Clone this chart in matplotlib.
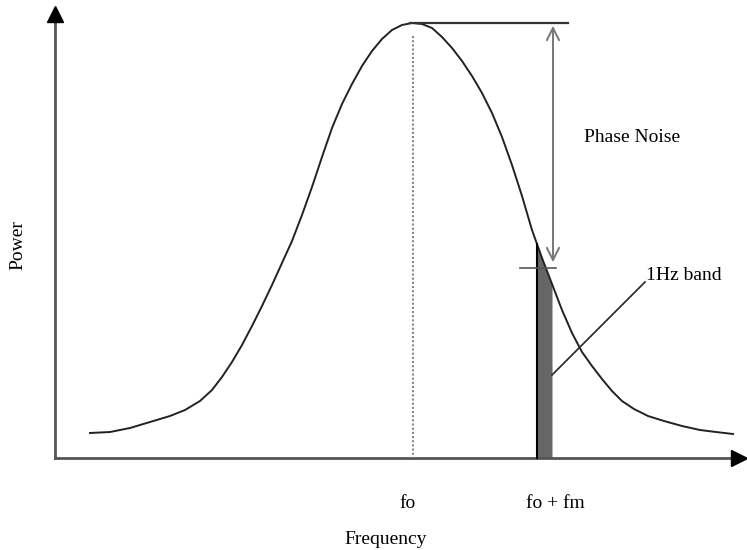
import numpy as np
import matplotlib.pyplot as plt

plt.rcParams['font.family'] = ['Liberation Serif', 'DejaVu Serif']

# curve (pixel coordinates, y down)
curve_x = [90, 110, 130, 150, 170, 185, 200, 212, 222, 232, 242, 252, 262, 272, 282, 292,
           302, 312, 322, 332, 342, 352, 362, 372, 382, 392, 402, 412, 422, 432, 442, 452,
           462, 472, 482, 492, 502, 512, 522, 532, 542, 552, 562, 572, 582, 592, 602, 612,
           622, 634, 648, 664, 682, 700, 716, 733]
curve_y = [433, 432, 428, 422, 416, 410, 401, 390, 377, 362, 345, 326, 306, 285, 263, 241,
           215, 187, 157, 128, 104, 84, 66, 51, 39, 30, 25, 23, 24, 28, 37, 48,
           61, 76, 93, 113, 137, 165, 196, 230, 258, 284, 310, 333, 352, 366, 379, 391,
           401, 409, 416, 421, 426, 430, 432, 434]

f0_x = 413
band_x = [537, 552]
peak_y = 23
noise_y = 265

fig = plt.figure(figsize=(7.47, 5.5), dpi=100)
ax = fig.add_axes([0, 0, 1, 1])
ax.set_xlim(0, 747)
ax.set_ylim(550, 0)
ax.axis('off')

# axes with arrows
ax.plot([55, 55], [458, 14], color='#555555', lw=2)
ax.plot([55, 738], [458, 458], color='#555555', lw=2)
ax.plot(55, 14, marker='^', color='black', ms=11)
ax.plot(739, 458, marker='>', color='black', ms=11)

# curve
ax.plot(curve_x, curve_y, color='#222222', lw=1.4, solid_joinstyle='round')

# dotted centre line
ax.plot([f0_x, f0_x], [36, 458], color='#888888', lw=1.5, ls=(0, (1, 1)))

# 1Hz band
bx = np.linspace(band_x[0], band_x[1], 20)
top = np.interp(bx, curve_x, curve_y)
ax.fill_between(bx, top, 458, color='#666666', lw=0)
ax.plot([band_x[0], band_x[0]], [np.interp(band_x[0], curve_x, curve_y), 458], color='black', lw=1.5)
ax.plot([520, 556], [268, 268], color='#555555', lw=1.2)

# peak line and phase noise arrow
ax.plot([410, 568], [peak_y, peak_y], color='#333333', lw=1.6)
ax.annotate('', xy=(553, peak_y), xytext=(553, noise_y),
            arrowprops=dict(arrowstyle='<->', color='#777777', lw=1.4, mutation_scale=22))

# leader line for the band label
ax.plot([552, 645], [375, 282], color='#333333', lw=1.3)

fs = 14
ax.text(584, 137, 'Phase Noise', fontsize=fs, ha='left', va='center')
ax.text(646, 276, '1Hz band', fontsize=fs, ha='left', va='center')
ax.text(408, 503, 'fo', fontsize=fs, ha='center', va='center')
ax.text(555, 503, 'fo + fm', fontsize=fs, ha='center', va='center')
ax.text(386, 539, 'Frequency', fontsize=fs, ha='center', va='center')
ax.text(18, 245, 'Power', fontsize=fs, ha='center', va='center', rotation=90)

fig.savefig('out.png', dpi=100)
